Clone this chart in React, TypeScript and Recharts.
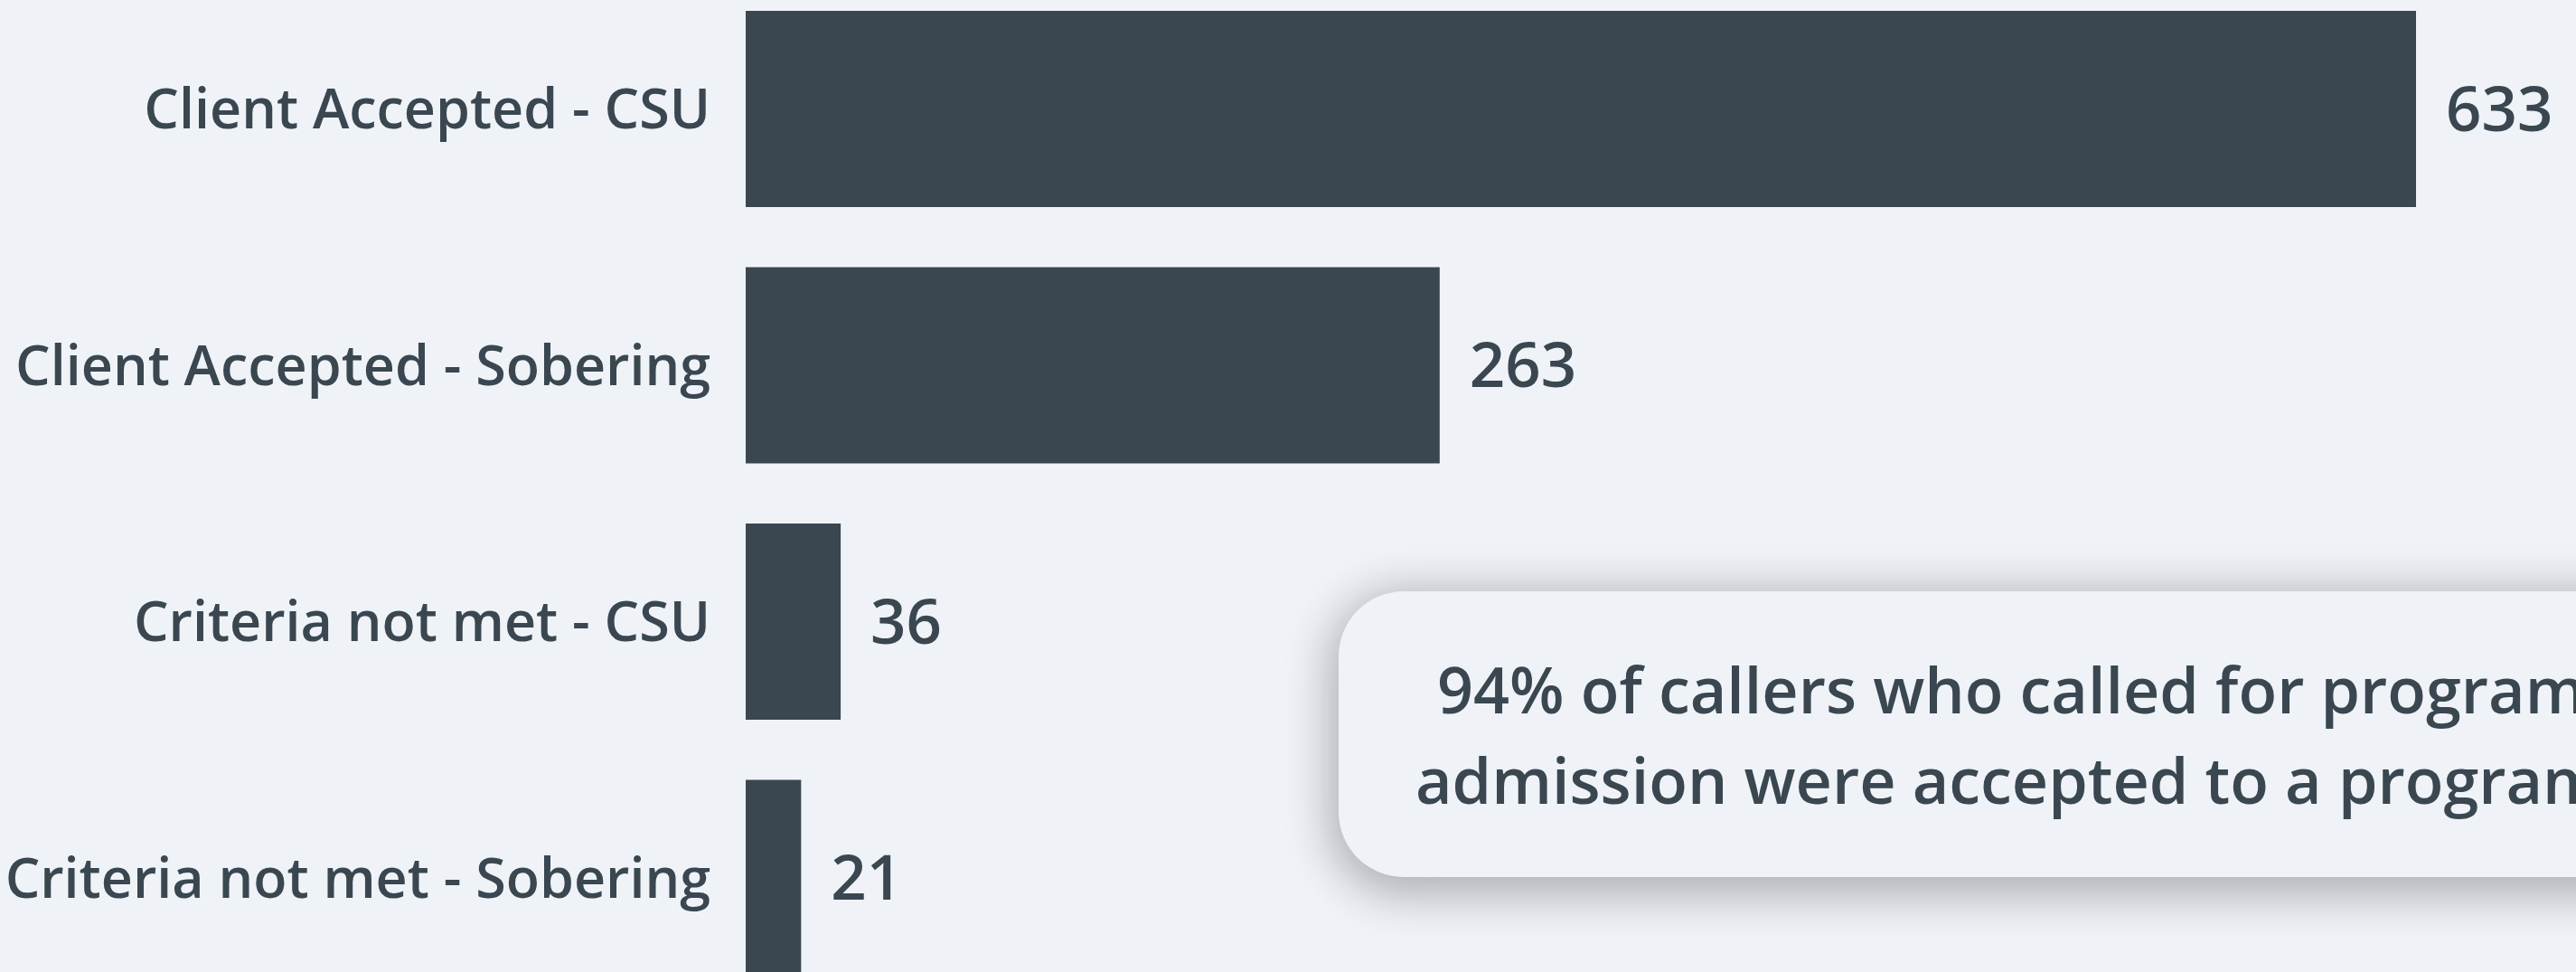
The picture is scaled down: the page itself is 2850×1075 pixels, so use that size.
import React from 'react';
import { BarChart, Bar, XAxis, YAxis, LabelList } from 'recharts';

const categories = [
  'Client Accepted - CSU',
  'Client Accepted - Sobering',
  'Criteria not met - CSU',
  'Criteria not met - Sobering',
];
const counts = [633, 263, 36, 21];
const calloutLines = [
  '94% of callers who called for program',
  'admission were accepted to a program.',
];

const data = categories.map((name, i) => ({ name, value: counts[i] }));

const BG = '#eff3f8';
const INK = '#3a4750';
const FONT = '"Open Sans", "Noto Sans", sans-serif';

export default function App() {
  return (
    <div
      style={{
        position: 'fixed',
        left: 0,
        top: 0,
        width: 2850,
        height: 1075,
        overflow: 'hidden',
        background: BG,
        fontFamily: FONT,
      }}
    >
      <div style={{ position: 'absolute', left: 0, top: -21 }}>
        <BarChart
          width={2850}
          height={1134}
          data={data}
          layout="vertical"
          margin={{ top: 0, right: 177, bottom: 0, left: 0 }}
        >
          <XAxis type="number" domain={[0, 633]} hide />
          <YAxis
            type="category"
            dataKey="name"
            width={825}
            axisLine={false}
            tickLine={false}
            tickSize={0}
            tickMargin={39}
            tick={{ fill: INK, fontSize: 61, fontWeight: 600, fontFamily: FONT }}
          />
          <Bar dataKey="value" fill={INK} barSize={217} isAnimationActive={false}>
            <LabelList
              dataKey="value"
              position="right"
              offset={33}
              fill={INK}
              fontSize={69}
              fontWeight={600}
              fontFamily={FONT}
            />
          </Bar>
        </BarChart>
      </div>
      <div
        style={{
          position: 'absolute',
          left: 1481,
          top: 654,
          width: 1900,
          height: 316,
          borderRadius: 72,
          background: BG,
          boxShadow: '0 10px 50px 10px rgba(0,0,0,0.28)',
          color: INK,
          fontSize: 70,
          fontWeight: 600,
          fontFamily: FONT,
        }}
      >
        <div style={{ position: 'absolute', left: 109, top: 58, whiteSpace: 'nowrap', lineHeight: '100px' }}>
          {calloutLines[0]}
        </div>
        <div style={{ position: 'absolute', left: 85, top: 158, whiteSpace: 'nowrap', lineHeight: '100px' }}>
          {calloutLines[1]}
        </div>
      </div>
    </div>
  );
}
